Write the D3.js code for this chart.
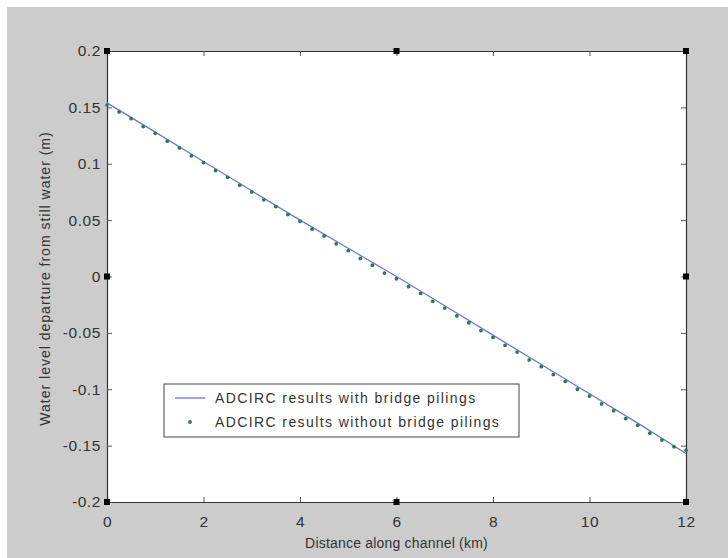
<!DOCTYPE html>
<html><head><meta charset="utf-8">
<script src="https://cdn.jsdelivr.net/npm/d3@7"></script>
<style>body{margin:0;background:#fff}svg{display:block}</style>
</head><body>
<script>
const xTicks = [0,2,4,6,8,10,12];
const yTicks = [0.2,0.15,0.1,0.05,0,-0.05,-0.1,-0.15,-0.2];
const yTickLabels = ["0.2","0.15","0.1","0.05","0","-0.05","-0.1","-0.15","-0.2"];
const lineX = [0,1,2,3,4,5,6,7,8,9,10,11,12];
const lineY = [0.154,0.128,0.102,0.076,0.050,0.025,0.000,-0.026,-0.052,-0.078,-0.104,-0.130,-0.157];
const dotX = [0,0.25,0.5,0.75,1,1.25,1.5,1.75,2,2.25,2.5,2.75,3,3.25,3.5,3.75,4,4.25,4.5,4.75,5,5.25,5.5,5.75,6,6.25,6.5,6.75,7,7.25,7.5,7.75,8,8.25,8.5,8.75,9,9.25,9.5,9.75,10,10.25,10.5,10.75,11,11.25,11.5,11.75,12];
const dotY = [0.152,0.146,0.140,0.133,0.127,0.120,0.114,0.107,0.101,0.094,0.088,0.081,0.075,0.068,0.062,0.055,0.049,0.042,0.036,0.029,0.023,0.016,0.010,0.003,-0.002,-0.009,-0.015,-0.022,-0.028,-0.035,-0.041,-0.048,-0.054,-0.061,-0.067,-0.074,-0.080,-0.087,-0.093,-0.100,-0.106,-0.113,-0.119,-0.126,-0.132,-0.139,-0.145,-0.151,-0.154];
const squareX = [0,6,12,0,12,0,6,12];
const squareY = [0.2,0.2,0.2,0,0,-0.2,-0.2,-0.2];
const legendLabels = ["ADCIRC results with bridge pilings","ADCIRC results without bridge pilings"];
const xLabel = "Distance along channel (km)";
const yLabel = "Water level departure from still water (m)";

const W=728,H=558;
const L=107,R=686,T=51,B=502;
const font='"Liberation Sans", Arial, Helvetica, sans-serif';
const txtCol="#333";
const svg=d3.select("body").append("svg").attr("width",W).attr("height",H);
svg.append("rect").attr("x",7).attr("y",7).attr("width",W-7).attr("height",H-7).attr("fill","#cccccc");

const x=d3.scaleLinear().domain([0,12]).range([L,R]);
const y=d3.scaleLinear().domain([-0.2,0.2]).range([B,T]);

svg.append("rect").attr("x",L).attr("y",T).attr("width",R-L).attr("height",B-T).attr("fill","#fff");

// axes
const gB=svg.append("g").attr("transform",`translate(0,${B})`)
  .call(d3.axisBottom(x).tickValues(xTicks).tickSize(-5).tickPadding(14).tickFormat(d3.format("d")));
const gT=svg.append("g").attr("transform",`translate(0,${T})`)
  .call(d3.axisTop(x).tickValues(xTicks).tickSize(-5).tickFormat(""));
const gL=svg.append("g").attr("transform",`translate(${L},0)`)
  .call(d3.axisLeft(y).tickValues(yTicks).tickSize(-5).tickPadding(6).tickFormat((d,i)=>yTickLabels[i]));
const gR=svg.append("g").attr("transform",`translate(${R},0)`)
  .call(d3.axisRight(y).tickValues(yTicks).tickSize(-5).tickFormat(""));
[gB,gT,gL,gR].forEach(g=>{
  g.select(".domain").attr("stroke","#333").attr("stroke-width",1.2);
  g.selectAll(".tick line").attr("stroke","#555");
  g.selectAll("text").attr("font-family",font).attr("font-size",15.5).attr("letter-spacing",0.6).attr("fill",txtCol);
});

// data line
svg.append("path").datum(lineX.map((d,i)=>[d,lineY[i]]))
  .attr("d",d3.line().x(d=>x(d[0])).y(d=>y(d[1])))
  .attr("fill","none").attr("stroke","#6677e6").attr("stroke-width",1.3);
// dots
svg.append("g").selectAll("circle").data(dotX.map((d,i)=>[d,dotY[i]])).join("circle")
  .attr("cx",d=>x(d[0])).attr("cy",d=>y(d[1])).attr("r",1.9).attr("fill","#2f7a4a");
// squares
svg.append("g").selectAll("rect").data(squareX.map((d,i)=>[d,squareY[i]])).join("rect")
  .attr("x",d=>x(d[0])-3).attr("y",d=>y(d[1])-3).attr("width",6).attr("height",6).attr("fill","#000");

// labels
svg.append("text").attr("x",(L+R)/2).attr("y",548).attr("text-anchor","middle")
  .attr("font-family",font).attr("font-size",14).attr("letter-spacing",0.2).attr("fill",txtCol).text(xLabel);
svg.append("text").attr("transform",`translate(50,${(T+B)/2+2}) rotate(-90)`).attr("text-anchor","middle")
  .attr("font-family",font).attr("font-size",14).attr("letter-spacing",1).attr("fill",txtCol).text(yLabel);

// legend
const lg=svg.append("g");
lg.append("rect").attr("x",164).attr("y",384).attr("width",355).attr("height",53)
  .attr("fill","#fff").attr("stroke","#444").attr("stroke-width",1);
lg.append("line").attr("x1",175).attr("x2",205).attr("y1",398).attr("y2",398)
  .attr("stroke","#6677e6").attr("stroke-width",1.3);
lg.append("circle").attr("cx",190).attr("cy",422).attr("r",1.9).attr("fill","#2f7a4a");
legendLabels.forEach((t,i)=>{
  lg.append("text").attr("x",215).attr("y",403+i*24).attr("font-family",font).attr("font-size",14)
    .attr("letter-spacing",1.4).attr("fill",txtCol).text(t);
});
</script>
</body></html>
